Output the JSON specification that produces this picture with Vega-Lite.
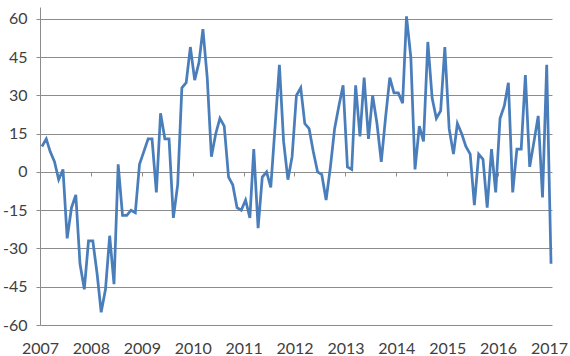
{
  "$schema": "https://vega.github.io/schema/vega-lite/v6.json",
  "width": 512,
  "height": 318,
  "autosize": "none",
  "padding": {"left": 40, "top": 7, "right": 18, "bottom": 31},
  "background": "white",
  "config": {"view": {"stroke": null}, "font": "Lato"},
  "data": {"values": [
    {"date": "2007-01-15", "v": 10}, {"date": "2007-02-15", "v": 13}, {"date": "2007-03-15", "v": 8}, {"date": "2007-04-15", "v": 4},
    {"date": "2007-05-15", "v": -3}, {"date": "2007-06-15", "v": 1}, {"date": "2007-07-15", "v": -26}, {"date": "2007-08-15", "v": -14},
    {"date": "2007-09-15", "v": -9}, {"date": "2007-10-15", "v": -36}, {"date": "2007-11-15", "v": -46}, {"date": "2007-12-15", "v": -27},
    {"date": "2008-01-15", "v": -27}, {"date": "2008-02-15", "v": -40}, {"date": "2008-03-15", "v": -55}, {"date": "2008-04-15", "v": -46},
    {"date": "2008-05-15", "v": -25}, {"date": "2008-06-15", "v": -44}, {"date": "2008-07-15", "v": 3}, {"date": "2008-08-15", "v": -17},
    {"date": "2008-09-15", "v": -17}, {"date": "2008-10-15", "v": -15}, {"date": "2008-11-15", "v": -16}, {"date": "2008-12-15", "v": 3},
    {"date": "2009-01-15", "v": 8}, {"date": "2009-02-15", "v": 13}, {"date": "2009-03-15", "v": 13}, {"date": "2009-04-15", "v": -8},
    {"date": "2009-05-15", "v": 23}, {"date": "2009-06-15", "v": 13}, {"date": "2009-07-15", "v": 13}, {"date": "2009-08-15", "v": -18},
    {"date": "2009-09-15", "v": -5}, {"date": "2009-10-15", "v": 33}, {"date": "2009-11-15", "v": 35}, {"date": "2009-12-15", "v": 49},
    {"date": "2010-01-15", "v": 36}, {"date": "2010-02-15", "v": 43}, {"date": "2010-03-15", "v": 56}, {"date": "2010-04-15", "v": 37},
    {"date": "2010-05-15", "v": 6}, {"date": "2010-06-15", "v": 15}, {"date": "2010-07-15", "v": 21}, {"date": "2010-08-15", "v": 18},
    {"date": "2010-09-15", "v": -2}, {"date": "2010-10-15", "v": -5}, {"date": "2010-11-15", "v": -14}, {"date": "2010-12-15", "v": -15},
    {"date": "2011-01-15", "v": -11}, {"date": "2011-02-15", "v": -18}, {"date": "2011-03-15", "v": 9}, {"date": "2011-04-15", "v": -22},
    {"date": "2011-05-15", "v": -2}, {"date": "2011-06-15", "v": 0}, {"date": "2011-07-15", "v": -6}, {"date": "2011-08-15", "v": 18},
    {"date": "2011-09-15", "v": 42}, {"date": "2011-10-15", "v": 12}, {"date": "2011-11-15", "v": -3}, {"date": "2011-12-15", "v": 6},
    {"date": "2012-01-15", "v": 30}, {"date": "2012-02-15", "v": 33}, {"date": "2012-03-15", "v": 19}, {"date": "2012-04-15", "v": 17},
    {"date": "2012-05-15", "v": 8}, {"date": "2012-06-15", "v": 0}, {"date": "2012-07-15", "v": -1}, {"date": "2012-08-15", "v": -11},
    {"date": "2012-09-15", "v": 2}, {"date": "2012-10-15", "v": 17}, {"date": "2012-11-15", "v": 26}, {"date": "2012-12-15", "v": 34},
    {"date": "2013-01-15", "v": 2}, {"date": "2013-02-15", "v": 1}, {"date": "2013-03-15", "v": 34}, {"date": "2013-04-15", "v": 14},
    {"date": "2013-05-15", "v": 37}, {"date": "2013-06-15", "v": 13}, {"date": "2013-07-15", "v": 30}, {"date": "2013-08-15", "v": 19},
    {"date": "2013-09-15", "v": 4}, {"date": "2013-10-15", "v": 21}, {"date": "2013-11-15", "v": 37}, {"date": "2013-12-15", "v": 31},
    {"date": "2014-01-15", "v": 31}, {"date": "2014-02-15", "v": 27}, {"date": "2014-03-15", "v": 61}, {"date": "2014-04-15", "v": 45},
    {"date": "2014-05-15", "v": 1}, {"date": "2014-06-15", "v": 18}, {"date": "2014-07-15", "v": 12}, {"date": "2014-08-15", "v": 51},
    {"date": "2014-09-15", "v": 29}, {"date": "2014-10-15", "v": 21}, {"date": "2014-11-15", "v": 24}, {"date": "2014-12-15", "v": 49},
    {"date": "2015-01-15", "v": 17}, {"date": "2015-02-15", "v": 7}, {"date": "2015-03-15", "v": 19}, {"date": "2015-04-15", "v": 15},
    {"date": "2015-05-15", "v": 10}, {"date": "2015-06-15", "v": 7}, {"date": "2015-07-15", "v": -13}, {"date": "2015-08-15", "v": 7},
    {"date": "2015-09-15", "v": 5}, {"date": "2015-10-15", "v": -14}, {"date": "2015-11-15", "v": 9}, {"date": "2015-12-15", "v": -8},
    {"date": "2016-01-15", "v": 21}, {"date": "2016-02-15", "v": 26}, {"date": "2016-03-15", "v": 35}, {"date": "2016-04-15", "v": -8},
    {"date": "2016-05-15", "v": 9}, {"date": "2016-06-15", "v": 9}, {"date": "2016-07-15", "v": 38}, {"date": "2016-08-15", "v": 2},
    {"date": "2016-09-15", "v": 12}, {"date": "2016-10-15", "v": 22}, {"date": "2016-11-15", "v": -10}, {"date": "2016-12-15", "v": 42},
    {"date": "2017-01-15", "v": -36}
  ]},
  "encoding": {
    "y": {
      "field": "v",
      "type": "quantitative",
      "scale": {"domain": [-60, 64.7], "nice": false, "zero": false},
      "axis": {
        "title": null,
        "values": [-60, -45, -30, -15, 0, 15, 30, 45, 60],
        "labelExpr": "datum.value < 0 ? '-' + abs(datum.value) : '' + datum.value",
        "grid": true,
        "gridColor": "#8c8c8c",
        "gridWidth": 1,
        "domainColor": "#8c8c8c",
        "tickColor": "#8c8c8c",
        "tickSize": 4,
        "labelPadding": 9,
        "labelFontSize": 16,
        "labelColor": "#404040",
        "labelFont": "Lato"
      }
    }
  },
  "layer": [
    {
      "mark": {"type": "line", "color": "#4a7ebb", "strokeWidth": 2.75, "strokeJoin": "miter"},
      "encoding": {
        "x": {
          "field": "date",
          "type": "temporal",
          "scale": {"domain": [{"year": 2007, "month": 1, "date": 1}, {"year": 2017, "month": 1, "date": 22}]},
          "axis": {
            "title": null,
            "orient": "bottom",
            "tickCount": {"interval": "year", "step": 1},
            "format": "%Y",
            "grid": false,
            "domain": false,
            "ticks": false,
            "labelFlush": false,
            "labelPadding": 15,
            "labelFontSize": 16,
            "labelColor": "#404040",
            "labelFont": "Lato",
            "labelOverlap": false
          }
        }
      }
    },
    {
      "mark": {"type": "line", "opacity": 0},
      "encoding": {
        "x": {
          "field": "date",
          "type": "temporal",
          "axis": {
            "title": null,
            "orient": "bottom",
            "offset": -153,
            "tickCount": {"interval": "year", "step": 1},
            "labels": false,
            "grid": false,
            "domain": false,
            "ticks": true,
            "tickSize": 4,
            "tickWidth": 1,
            "tickColor": "#8c8c8c"
          }
        }
      }
    }
  ],
  "resolve": {"axis": {"x": "independent"}}
}
